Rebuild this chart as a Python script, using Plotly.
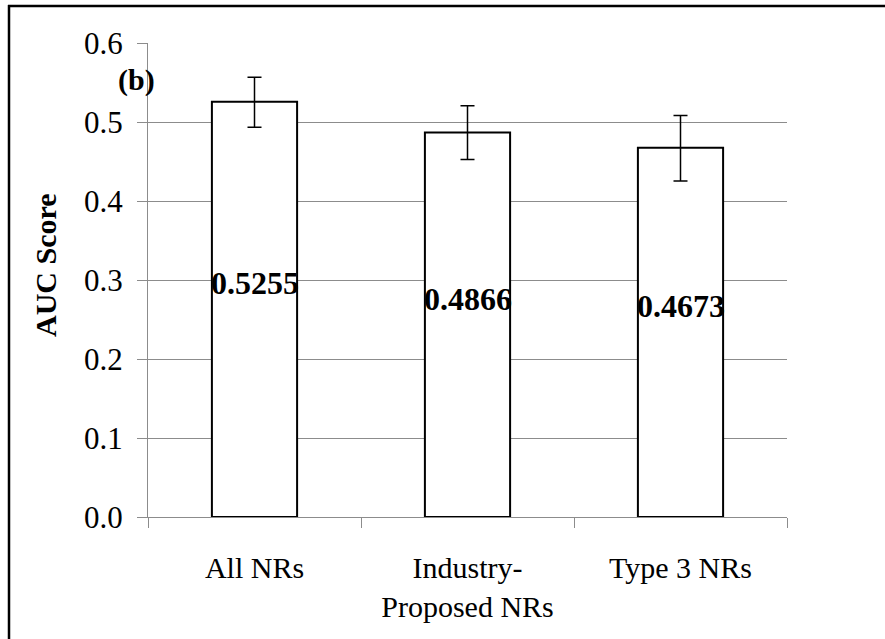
import plotly.graph_objects as go

categories = ["All NRs", "Industry-<br>Proposed NRs", "Type 3 NRs"]
auc_values = [0.5255, 0.4866, 0.4673]
err_plus = [0.031, 0.034, 0.041]
err_minus = [0.032, 0.034, 0.042]
value_labels = ["0.5255", "0.4866", "0.4673"]
y_ticks = [0.0, 0.1, 0.2, 0.3, 0.4, 0.5, 0.6]

FONT = "Liberation Serif, Times New Roman, serif"
GRAY = "#8c8c8c"

W, H = 885, 639
L, T = 148, 43
PR, PB = 787, 517
R, B = W - PR, H - PB
pw, ph = PR - L, PB - T

def px_x(px):
    return (px - L) / pw

def px_y(py):
    return (PB - py) / ph

fig = go.Figure()
fig.add_trace(go.Bar(
    x=categories,
    y=auc_values,
    marker=dict(color="white", line=dict(color="black", width=2)),
    width=0.4,
    error_y=dict(type="data", symmetric=False, array=err_plus, arrayminus=err_minus,
                 color="black", thickness=1.5, width=7),
    showlegend=False,
))

for c, v, t in zip(categories, auc_values, value_labels):
    fig.add_annotation(x=c, y=v / 2, text="<b>%s</b>" % t, showarrow=False,
                       yshift=26, xanchor="center", yanchor="middle",
                       font=dict(family=FONT, size=32, color="black"))

fig.add_annotation(xref="paper", yref="paper", x=px_x(136), y=px_y(80),
                   text="<b>(b)</b>", showarrow=False, xanchor="center", yanchor="middle",
                   font=dict(family=FONT, size=30, color="black"))

fig.add_annotation(xref="paper", yref="paper", x=px_x(45), y=px_y(265),
                   text="<b>AUC Score</b>", textangle=-90, showarrow=False,
                   xanchor="center", yanchor="middle",
                   font=dict(family=FONT, size=30, color="black"))

# outer frame (left and top edges visible)
fig.add_shape(type="line", xref="paper", yref="paper",
              x0=px_x(8), x1=px_x(900), y0=px_y(6), y1=px_y(6),
              line=dict(color="black", width=2.5))
fig.add_shape(type="line", xref="paper", yref="paper",
              x0=px_x(9), x1=px_x(9), y0=px_y(5), y1=px_y(660),
              line=dict(color="black", width=2.5))

fig.update_layout(
    width=W, height=H,
    margin=dict(l=L, r=R, t=T, b=B, autoexpand=False),
    paper_bgcolor="white", plot_bgcolor="white",
    font=dict(family=FONT, size=30, color="black"),
    bargap=0.6,
)
fig.update_xaxes(
    type="category", tickson="boundaries", ticks="outside", ticklen=10,
    tickcolor=GRAY, showline=True, linecolor=GRAY, linewidth=1,
    showgrid=False, tickfont=dict(family=FONT, size=30), range=[-0.5, 2.5],
    ticklabelstandoff=24,
)
fig.update_yaxes(
    range=[0, 0.6], tickvals=y_ticks, tickformat=".1f", ticks="outside",
    ticklen=10, tickcolor=GRAY, showline=True, linecolor=GRAY, linewidth=1,
    showgrid=True, gridcolor=GRAY, gridwidth=1, zeroline=False,
    tickfont=dict(family=FONT, size=31), ticklabelstandoff=8,
)

fig.write_html("out.html", config={"displayModeBar": False},
               post_script="document.body.style.margin='0';")
